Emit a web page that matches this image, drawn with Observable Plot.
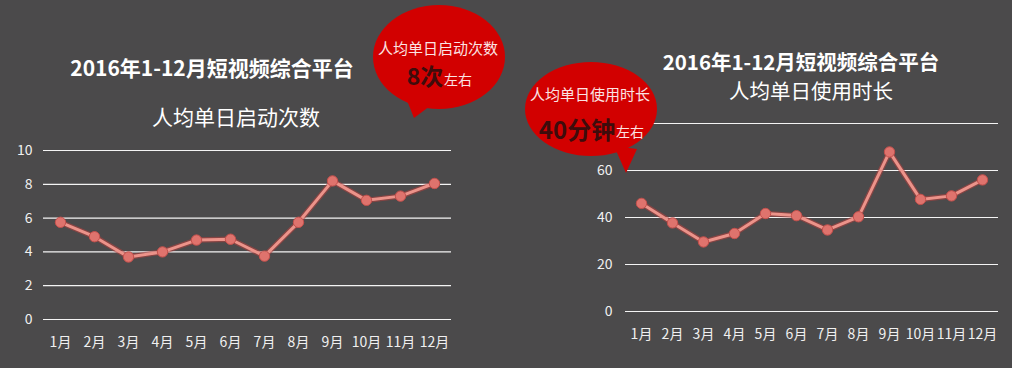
<!DOCTYPE html>
<html><head><meta charset="utf-8">
<script src="https://cdn.jsdelivr.net/npm/d3@7"></script>
<script src="https://cdn.jsdelivr.net/npm/@observablehq/plot@0.6"></script>
<style>
body{margin:0;background:#4b4a4b;}
#wrap{position:relative;width:1012px;height:368px;overflow:hidden;background:#4b4a4b;font-family:"Noto Sans CJK SC","Noto Sans",sans-serif;}
.panel{position:absolute;top:0;}
.t{position:absolute;color:#fff;white-space:nowrap;transform:translate(-50%,-50%);line-height:1;}
#overlay{position:absolute;left:0;top:0;pointer-events:none;}
</style></head><body><div id="wrap"></div>
<script>
const months = ["1月","2月","3月","4月","5月","6月","7月","8月","9月","10月","11月","12月"];
const launches = [5.75,4.9,3.7,4.0,4.7,4.75,3.75,5.75,8.2,7.05,7.3,8.05];
const durations = [46,37.7,29.6,33.2,41.7,40.8,34.7,40.3,67.9,47.7,49.2,56];
const launchTicks = [0,2,4,6,8,10];
const durationTicks = [0,20,40,60,80];
const durationTickLabels = [0,20,40,60]; // 80 is hidden behind the bubble in the original
const mainTitle = "2016年1-12月短视频综合平台";
const subTitles = ["人均单日启动次数","人均单日使用时长"];
const bubbleHeads = ["人均单日启动次数","人均单日使用时长"];
const bubbleValues = ["8次","40分钟"];
const bubbleSuffix = "左右";

const wrap = document.getElementById("wrap");
const FONT = '"Noto Sans CJK SC","Noto Sans",sans-serif';

function panel(values, grid, labels, o){
  const data = months.map((m,i)=>({month:m, value:values[i]}));
  const p = Plot.plot({
    width:o.width, height:368,
    marginLeft:o.ml, marginRight:o.mr, marginTop:o.mt, marginBottom:o.mb,
    style:{background:"transparent", color:"#f0f0f0", fontFamily:FONT, fontSize:"14px", overflow:"visible"},
    x:{type:"point", domain:months, padding:0.5, label:null},
    y:{domain:[0, grid[grid.length-1]], label:null},
    marks:[
      Plot.ruleY(grid,{stroke:"#f4f4f4", strokeWidth:1.2}),
      Plot.axisY({ticks:labels, tickSize:0, tickPadding:o.tp, fontSize:14, label:null}),
      Plot.axisX({tickSize:0, tickPadding:18, fontSize:14, label:null}),
      Plot.line(data,{x:"month", y:"value", stroke:"#b8403e", strokeWidth:5.5, strokeOpacity:0.55}),
      Plot.line(data,{x:"month", y:"value", stroke:"#ec938a", strokeWidth:3}),
      Plot.dot(data,{x:"month", y:"value", r:5.2, fill:"#df736d", stroke:"#c4504c", strokeWidth:1})
    ]
  });
  p.classList.add("panel");
  p.style.left = o.left + "px";
  wrap.appendChild(p);
}

panel(launches, launchTicks, launchTicks, {left:0, width:470, ml:43, mr:19, mt:150, mb:49, tp:11});
panel(durations, durationTicks, durationTickLabels, {left:560, width:452, ml:65, mr:14, mt:123, mb:57, tp:13});

function label(text, x, y, size, bold){
  const d = document.createElement("div");
  d.className = "t";
  d.textContent = text;
  d.style.left = x + "px"; d.style.top = y + "px";
  d.style.fontSize = size + "px";
  d.style.fontWeight = bold ? "700" : "400";
  wrap.appendChild(d);
}
label(mainTitle, 212, 67, 21, true);
label(subTitles[0], 236, 116, 21, false);
label(mainTitle, 801, 60.5, 20.5, true);
label(subTitles[1], 811, 90, 20.5, false);

// speech bubbles
const svg = d3.select(wrap).append("svg").attr("id","overlay").attr("width",1012).attr("height",368);
const bubbles = [
  {cx:439, cy:57, rx:66, ry:52, tail:[[404,93],[430,106],[414,118]], head:bubbleHeads[0], hy:47, val:bubbleValues[0], vx:425, vy:75, vs:23, sx:458, sy:79},
  {cx:591, cy:109, rx:66, ry:47, tail:[[614,146],[637,149],[626,173]], head:bubbleHeads[1], hy:93, val:bubbleValues[1], vx:577, vy:128, vs:24, sx:630, sy:131}
];
const defs = svg.append("defs");
defs.append("filter").attr("id","soft").append("feGaussianBlur").attr("stdDeviation",0.7);
for(const b of bubbles){
  const g = svg.append("g");
  g.append("polygon").attr("points", b.tail.map(p=>p.join(",")).join(" ")).attr("fill","#d20000").attr("filter","url(#soft)");
  g.append("ellipse").attr("cx",b.cx).attr("cy",b.cy).attr("rx",b.rx).attr("ry",b.ry).attr("fill","#d20000").attr("filter","url(#soft)");
  g.append("text").attr("x",b.cx-1).attr("y",b.hy).attr("text-anchor","middle").attr("dominant-baseline","central")
    .attr("fill","#fbe3e3").style("font-family",FONT).style("font-size","15px").text(b.head);
  g.append("text").attr("x",b.vx).attr("y",b.vy).attr("text-anchor","middle").attr("dominant-baseline","central")
    .attr("fill","#3e0c0c").style("font-family",FONT).style("font-size",b.vs+"px").style("font-weight","700").text(b.val);
  g.append("text").attr("x",b.sx).attr("y",b.sy).attr("text-anchor","middle").attr("dominant-baseline","central")
    .attr("fill","#fbe3e3").style("font-family",FONT).style("font-size","14px").text(bubbleSuffix);
}
</script></body></html>
